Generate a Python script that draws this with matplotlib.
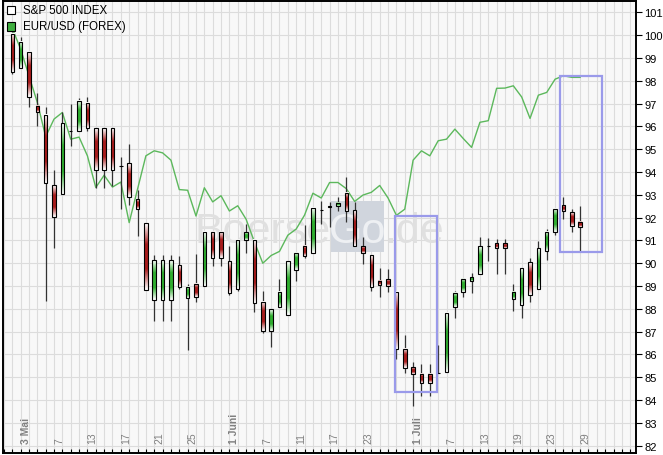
#Candlestick chart S&P 500 with EUR/USD overlay

#import modules
import matplotlib
matplotlib.use("Agg")
import matplotlib.pyplot as plt
import numpy as np
from matplotlib.patches import Rectangle
from matplotlib.colors import to_rgb
from matplotlib.transforms import blended_transform_factory

#Data (one entry per trading slot)
sp_open = [100.05, 98.54, 99.25, 96.90, 96.51, 93.43, 93.03, 95.80, 95.78, 97.01,
           95.91, 95.91, 95.91, 94.28, 94.38, 92.81, 91.75, 88.39, 88.39, 88.39,
           89.92, 88.46, 89.11, 89.01, 91.39, 91.39, 90.08, 88.86, 91.03, 91.03,
           88.32, 87.04, 88.06, 87.72, 89.71, 90.74, 90.43, 92.35, 92.50, 92.49,
           93.07, 92.33, 90.76, 90.37, 89.23, 89.30, 88.76, 86.23, 85.43, 85.14,
           85.14, 85.20, 85.21, 88.06, 88.72, 89.23, 89.55, 90.77, 90.87, 90.87,
           88.43, 88.18, 90.04, 88.86, 90.52, 91.38, 92.56, 92.23, 91.83]
sp_high = [100.12, 99.90, 99.27, 97.45, 96.83, 94.10, 96.61, 97.00, 97.24, 97.30,
           95.91, 95.91, 95.91, 94.64, 95.22, 93.22, 91.75, 90.36, 90.36, 90.36,
           90.32, 89.11, 90.40, 91.39, 91.39, 91.39, 90.76, 91.03, 91.71, 91.03,
           88.79, 88.00, 89.30, 90.08, 90.47, 91.67, 92.42, 92.74, 92.67, 92.89,
           93.76, 92.67, 91.13, 90.37, 89.78, 89.74, 88.76, 86.85, 85.65, 85.57,
           85.57, 86.41, 87.84, 88.79, 89.33, 89.57, 91.13, 91.10, 91.06, 91.06,
           89.08, 89.77, 90.25, 90.96, 91.50, 92.40, 92.91, 92.37, 92.52]
sp_low = [98.29, 98.54, 96.83, 96.00, 88.35, 90.65, 93.03, 95.15, 95.78, 95.81,
          93.32, 93.32, 93.39, 92.37, 92.55, 91.20, 88.82, 87.47, 87.47, 87.47,
          88.86, 86.20, 88.28, 89.01, 89.89, 89.89, 88.61, 88.79, 90.44, 87.87,
          86.96, 86.31, 88.06, 87.72, 89.23, 90.25, 90.43, 91.71, 91.61, 92.30,
          91.82, 90.76, 89.96, 88.79, 88.50, 88.75, 85.79, 85.18, 83.75, 84.16,
          84.16, 85.18, 85.21, 87.62, 88.50, 88.68, 89.55, 90.11, 89.52, 89.52,
          87.91, 87.58, 88.28, 88.86, 90.14, 91.25, 91.93, 91.38, 90.50]
sp_close = [98.37, 99.68, 97.27, 96.61, 93.50, 92.04, 96.13, 95.78, 97.10, 95.91,
            94.10, 94.10, 94.10, 94.26, 92.89, 92.40, 88.82, 90.14, 90.14, 90.14,
            88.96, 88.98, 88.50, 91.39, 90.25, 90.25, 88.69, 91.03, 91.38, 88.25,
            87.04, 87.99, 88.72, 90.08, 90.47, 90.30, 92.42, 92.33, 92.48, 92.64,
            92.27, 90.76, 90.47, 88.98, 89.05, 89.01, 86.26, 85.39, 85.14, 84.74,
            84.74, 85.18, 87.84, 88.68, 89.33, 89.38, 90.76, 90.75, 90.69, 90.69,
            88.76, 89.77, 88.61, 90.65, 91.39, 92.40, 92.30, 91.64, 91.60]

eurusd = [100.30, 99.39, 98.22, 97.05, 95.55, 96.32, 96.61, 95.44, 95.53, 94.71,
          93.32, 93.86, 93.34, 93.56, 91.78, 93.25, 94.71, 94.93, 94.84, 94.52,
          93.23, 93.20, 92.07, 93.31, 92.69, 92.96, 92.29, 92.52, 91.93, 90.93,
          90.00, 90.34, 90.52, 91.23, 91.50, 92.11, 93.07, 92.86, 93.54, 93.54,
          93.27, 92.71, 92.99, 93.11, 93.41, 92.86, 92.10, 92.37, 94.52, 94.93,
          94.71, 95.37, 95.44, 95.88, 95.47, 95.08, 96.18, 96.25, 97.67, 97.68,
          97.78, 97.29, 96.35, 97.37, 97.49, 98.07, 98.22, 98.15, 98.15]

date_slots = [1, 5, 9, 13, 17, 21, 26, 30, 34, 38, 42, 48, 52, 56, 60, 64, 68]
date_labels = ['3 Mai', '7', '13', '17', '21', '25', '1 Juni', '7', '11', '17',
               '23', '1 Juli', '7', '13', '19', '23', '29']

#marked areas: (slot from, slot to, low, high)
boxes = [(45.83, 50.83, 84.36, 92.08), (65.6, 70.66, 90.5, 98.22)]

y_ticks = list(range(82, 102))


#vertical white-colour-white gradient for a candle body
def gradient(color, steps=40):
    c = np.array(to_rgb(color))
    t = np.linspace(-1, 1, steps)
    k = np.clip(1.6 * (1 - np.abs(t)), 0, 1)[:, None]
    img = (1 - k) * np.ones(3) + k * c
    return img[:, None, :]


#Figure
fig = plt.figure(figsize=(6.63, 4.56), dpi=100)
ax = fig.add_axes([3 / 663, 2 / 456, 633 / 663, 452.5 / 456])
ax.set_facecolor("#f8f8f8")

#grid
n = len(sp_open)
for i in range(-1, 75):
    ax.axvline(i, color="#dcdcdc", lw=0.8, zorder=0)
for v in y_ticks:
    ax.axhline(v, color="#dcdcdc", lw=0.8, zorder=0)

#watermark
ax.add_patch(Rectangle((0.518, 0.444), 0.084, 0.113, transform=ax.transAxes,
                       facecolor="#d0d5dd", edgecolor="none", zorder=0.5))
ax.text(0.518, 0.466, "Boerse", transform=ax.transAxes, ha="right", va="baseline",
        fontsize=31, color="#e0e0e0", family="Liberation Sans", zorder=0.6)
ax.text(0.560, 0.466, "Go", transform=ax.transAxes, ha="center", va="baseline",
        fontsize=31, color="#eef0f3", family="Liberation Sans", zorder=0.6)
ax.text(0.602, 0.466, ".de", transform=ax.transAxes, ha="left", va="baseline",
        fontsize=31, color="#e0e0e0", family="Liberation Sans", zorder=0.6)

#EUR/USD line
x = list(range(n))
ax.plot(x, eurusd, color="#5cb85c", lw=1.0, zorder=2)

#candles
w = 0.42
ax.vlines(x, sp_low, sp_high, color="#333333", lw=0.9, zorder=3)
up_img = gradient("#2fae2f")
dn_img = gradient("#a81c1c")
for i in range(n):
    lo = min(sp_open[i], sp_close[i])
    hi = max(sp_open[i], sp_close[i])
    img = up_img if sp_close[i] >= sp_open[i] else dn_img
    if hi - lo > 0.05:
        ax.imshow(img, extent=(i - w / 2, i + w / 2, lo, hi), aspect="auto",
                  interpolation="bilinear", zorder=4)
    ax.add_patch(Rectangle((i - w / 2, lo), w, hi - lo, fill=False,
                           edgecolor="black", lw=0.8, zorder=4.5))

#marked boxes
for x0, x1, lo, hi in boxes:
    ax.add_patch(Rectangle((x0, lo), x1 - x0, hi - lo, fill=False,
                           edgecolor="#9a9aea", lw=1.6, zorder=5))

ax.set_xlim(-1.11, 74.69)
ax.set_ylim(81.68, 101.52)

#axes
ax.yaxis.tick_right()
ax.set_yticks(y_ticks)
ax.set_yticklabels([str(v) for v in y_ticks], fontsize=8, family="Liberation Sans")
ax.tick_params(axis="y", direction="out", length=4, width=0.8, pad=2)
ax.set_xticks(range(-1, 75))
ax.set_xticklabels([])
ax.tick_params(axis="x", direction="in", length=3, width=0.8)
for s in ax.spines.values():
    s.set_linewidth(1.4)

#date labels inside the plot
trans = blended_transform_factory(ax.transData, ax.transAxes)
for s, lab in zip(date_slots, date_labels):
    bold = " " in lab
    ax.text(s, 0.022, lab, transform=trans, rotation=90, ha="left", va="bottom",
            fontsize=7.5, color="#808080", family="Liberation Sans",
            fontweight="bold" if bold else "normal", zorder=6)

#legend
ax.add_patch(Rectangle((0.0068, 0.970), 0.0122, 0.017, transform=ax.transAxes,
                       facecolor="white", edgecolor="black", lw=0.8, zorder=6))
ax.add_patch(Rectangle((0.0068, 0.933), 0.0122, 0.019, transform=ax.transAxes,
                       facecolor="#3fae3f", edgecolor="black", lw=0.8, zorder=6))
ax.text(0.031, 0.979, "S&P 500 INDEX", transform=ax.transAxes, ha="left", va="center",
        fontsize=8.3, family="Liberation Sans", zorder=6)
ax.text(0.031, 0.943, "EUR/USD (FOREX)", transform=ax.transAxes, ha="left", va="center",
        fontsize=8.3, family="Liberation Sans", zorder=6)

fig.savefig("out.png", dpi=100)
